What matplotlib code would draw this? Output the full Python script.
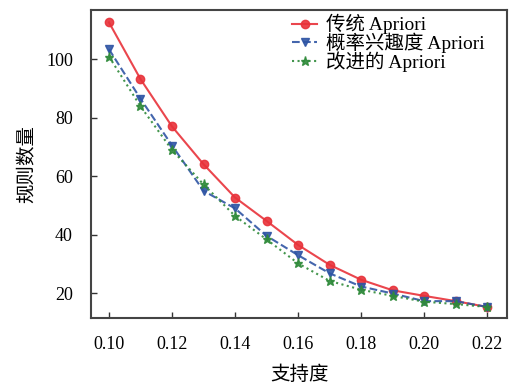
import matplotlib
matplotlib.use("Agg")
import matplotlib.pyplot as plt

support = [0.10, 0.11, 0.12, 0.13, 0.14, 0.15, 0.16, 0.17, 0.18, 0.19, 0.20, 0.21, 0.22]
traditional = [112.6, 93.2, 77.0, 64.1, 52.7, 44.7, 36.5, 29.7, 24.6, 21.0, 19.1, 17.3, 15.3]
prob_interest = [103.4, 86.5, 70.5, 55.0, 49.0, 39.6, 33.0, 26.8, 22.3, 19.9, 17.3, 17.3, 15.3]
improved = [100.9, 83.9, 69.0, 57.2, 46.4, 38.4, 30.2, 24.2, 21.2, 19.1, 17.1, 16.3, 15.3]
labels = ["传统 Apriori", "概率兴趣度 Apriori", "改进的 Apriori"]
xticks = [0.10, 0.12, 0.14, 0.16, 0.18, 0.20, 0.22]
yticks = [20, 40, 60, 80, 100]

fam = ["Liberation Serif", "Noto Sans CJK SC"]
plt.rcParams['font.family'] = fam

fig = plt.figure(figsize=(5.17, 3.87), dpi=100)
ax = fig.add_axes([0.176, 0.178, 0.805, 0.796])

ax.plot(support, traditional, color="#e8323a", lw=1.5, marker="o", ms=6, label=labels[0], alpha=0.9)
ax.plot(support, prob_interest, color="#2f55a4", lw=1.5, ls="--", marker="v", ms=6, label=labels[1], alpha=0.9)
ax.plot(support, improved, color="#2f8a3a", lw=1.5, ls=":", marker="*", ms=6.5, label=labels[2], alpha=0.9)

ax.set_xlim(0.0943, 0.2263)
ax.set_ylim(11.5, 116.8)
ax.set_xticks(xticks)
ax.set_xticklabels([f"{v:.2f}" for v in xticks])
ax.set_yticks(yticks)
ax.tick_params(direction="in", length=4, width=1, labelsize=13, color="#333333")
ax.tick_params(axis="x", pad=13)
ax.tick_params(axis="y", pad=13)
for s in ax.spines.values():
    s.set_linewidth(1.5)
    s.set_color("#444444")

ax.set_xlabel("支持度", fontsize=14, labelpad=9)
ax.set_ylabel("规则数量", fontsize=14, labelpad=7)

leg = ax.legend(loc="upper right", frameon=False, fontsize=14, handlelength=1.3,
                handletextpad=0.45, labelspacing=-0.1, borderaxespad=0.0,
                bbox_to_anchor=(0.965, 1.012))

fig.savefig("out.png", dpi=100)
